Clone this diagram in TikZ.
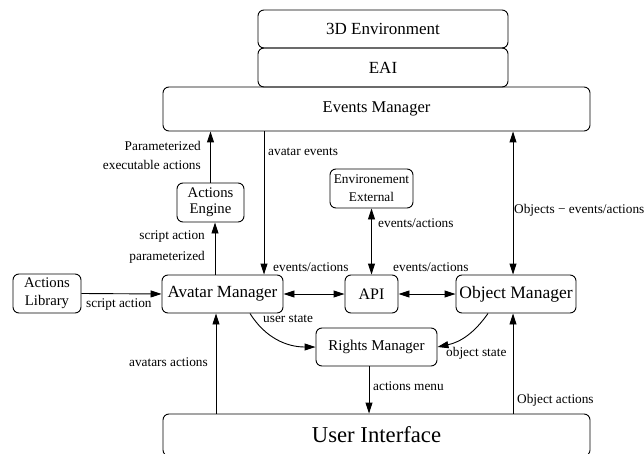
\documentclass[tikz,border=0pt]{standalone}
\usepackage{fontspec}
\setmainfont{Liberation Serif}
\usetikzlibrary{arrows.meta}
\tikzset{
  x=1pt, y=-1pt,
  box/.style={draw, rounded corners=6pt, line width=0.9pt, inner sep=0pt, align=center},
  lbl/.style={inner sep=0pt, font=\fontsize{13.3}{15}\selectfont},
  conn/.style={line width=0.9pt, -{Triangle[length=11pt,width=7pt]}},
  bconn/.style={line width=0.9pt, {Triangle[length=11pt,width=7pt]}-{Triangle[length=11pt,width=7pt]}},
}
\begin{document}
\begin{tikzpicture}
\useasboundingbox (0,0) rectangle (644,454);
% boxes
\node[box, minimum width=250pt, minimum height=38pt, font=\fontsize{17}{19}\selectfont] (env) at (383,29) {3D Environment};
\node[box, minimum width=250pt, minimum height=39pt, font=\fontsize{17}{19}\selectfont] (eai) at (383,67.5) {EAI};
\node[box, minimum width=427pt, minimum height=44pt, font=\fontsize{16.5}{19}\selectfont] (events) at (376.5,109) {Events Manager};
\node[box, minimum width=67pt, minimum height=39pt, font=\fontsize{14.7}{16}\selectfont] (engine) at (210.5,202.5) {Actions\\Engine};
\node[box, minimum width=68pt, minimum height=39pt, font=\fontsize{14.7}{18}\selectfont] (library) at (47,293.5) {Actions\\Library};
\node[box, minimum width=121pt, minimum height=38pt, font=\fontsize{17}{19}\selectfont] (avatar) at (222.5,294) {Avatar Manager};
\node[box, minimum width=53pt, minimum height=38pt, font=\fontsize{16}{19}\selectfont] (api) at (371.5,294) {API};
\node[box, minimum width=120pt, minimum height=38pt, font=\fontsize{17.5}{19}\selectfont] (objm) at (516,294) {Object Manager};
\node[box, minimum width=83pt, minimum height=39pt, font=\fontsize{13.3}{18}\selectfont] (ext) at (371.5,188.5) {Environement\\External};
\node[box, minimum width=121pt, minimum height=38pt, font=\fontsize{15}{18}\selectfont] (rights) at (376.5,347) {Rights Manager};
\node[box, minimum width=427pt, minimum height=42pt, font=\fontsize{22.7}{25}\selectfont] (ui) at (376.5,435) {User Interface};
% helper x positions
\coordinate (xae) at (264,0);
\coordinate (xob) at (513,0);
\coordinate (xus) at (250,0);
\coordinate (xos) at (488,0);
\coordinate (xam) at (369,0);
\coordinate (xaa) at (216,0);
\coordinate (xsa) at (215,0);
% connectors
\draw[conn] (engine.north) -- (engine.north |- events.south);
\draw[conn] (xsa |- avatar.north) -- (xsa |- engine.south);
\draw[conn] (xae |- events.south) -- (xae |- avatar.north);
\draw[bconn] (xob |- events.south) -- (xob |- objm.north);
\draw[conn] (library.east) -- (avatar.west);
\draw[bconn] (avatar.east) -- (api.west);
\draw[bconn] (api.east) -- (objm.west);
\draw[bconn] (ext.south) -- (api.north);
\draw[conn] (xus |- avatar.south) to[out=-58, in=180] (rights.west);
\draw[conn] (xos |- objm.south) to[out=-125, in=12] (rights.east);
\draw[conn] (xam |- rights.south) -- (xam |- ui.north);
\draw[conn] (xaa |- ui.north) -- (xaa |- avatar.south);
\draw[conn] (xob |- ui.north) -- (xob |- objm.south);
% labels
\node[lbl, anchor=east] (l1) at (201,146) {Parameterized};
\node[lbl, anchor=east] (l2) at (201,165) {executable actions};
\node[lbl, anchor=west] (l3) at (268,152) {avatar events};
\node[lbl, anchor=east] (l4) at (205,237) {script action};
\node[lbl, anchor=east] (l5) at (205,257) {parameterized};
\node[lbl, anchor=west] (l6) at (273,267) {events/actions};
\node[lbl, anchor=west] (l7) at (378,223) {events/actions};
\node[lbl, anchor=west] (l8) at (393,267) {events/actions};
\node[lbl, anchor=west] (l9) at (514,210) {Objects − events/actions};
\node[lbl, anchor=west] (l10) at (86,305) {script action};
\node[lbl, anchor=west] (l11) at (263,319) {user state};
\node[lbl, anchor=east] (l12) at (208,362) {avatars actions};
\node[lbl, anchor=west] (l13) at (373,386) {actions menu};
\node[lbl, anchor=west] (l14) at (446,353) {object state};
\node[lbl, anchor=west] (l15) at (517,400) {Object actions};
\end{tikzpicture}
\end{document}
